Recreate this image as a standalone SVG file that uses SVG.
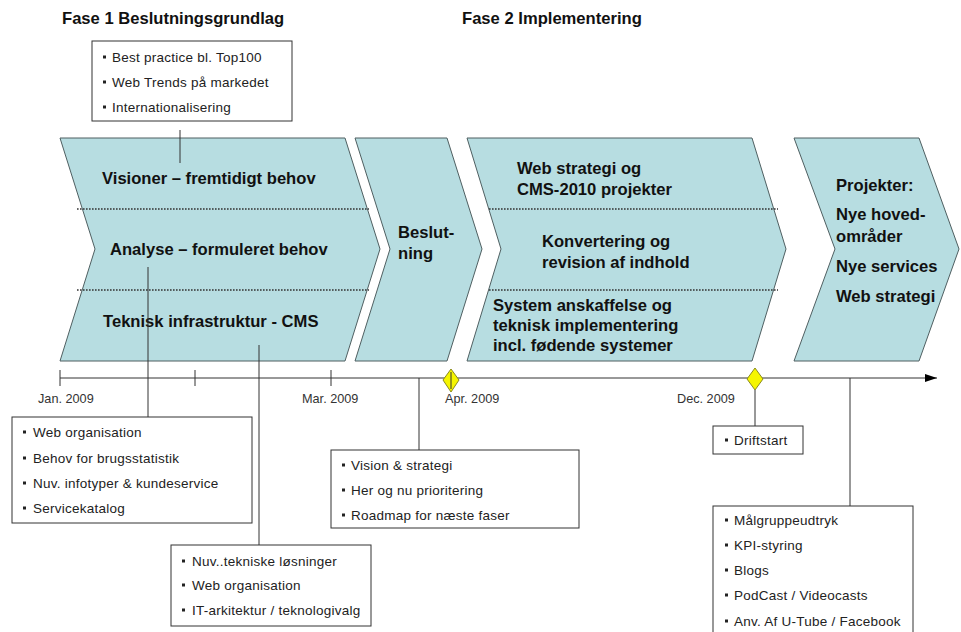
<svg xmlns="http://www.w3.org/2000/svg" width="961" height="632" viewBox="0 0 961 632">
<defs>
<style>
.chev{fill:#b7dde1;stroke:#4f5f61;stroke-width:1}
.dot{stroke:#333;stroke-width:1.6;stroke-dasharray:1.6 1.4;fill:none}
.h{font-family:"Liberation Sans",Arial,sans-serif;font-weight:bold;font-size:16.6px;fill:#111}
.t{font-family:"Liberation Sans",Arial,sans-serif;font-size:13.5px;letter-spacing:0.25px;fill:#222}
.d{font-family:"Liberation Sans",Arial,sans-serif;font-size:12.7px;fill:#333}
.box{fill:#fff;stroke:#333;stroke-width:1}
.ln{stroke:#333;stroke-width:1;fill:none}
.dia{fill:#f5f500;stroke:#8a8a20;stroke-width:1}
</style>
<rect id="b" width="3" height="3" fill="#222"/>
<marker id="arr" markerWidth="12" markerHeight="8" refX="12" refY="4" orient="auto" markerUnits="userSpaceOnUse">
<path d="M0,0 L12,4 L0,8 Z" fill="#000"/>
</marker>
</defs>
<rect width="961" height="632" fill="#fff"/>

<g id="headings">
<text class="h" x="62" y="24">Fase 1 Beslutningsgrundlag</text>
<text class="h" x="462" y="24">Fase 2 Implementering</text>
</g>

<g id="chevron1">
<polygon class="chev" points="60,138 345,138 380,249 345,361 60,361 95,249"/>
<line class="dot" x1="77" y1="209" x2="369" y2="209"/>
<line class="dot" x1="77" y1="290" x2="369" y2="290"/>
<text class="h" x="102" y="184">Visioner – fremtidigt behov</text>
<text class="h" x="110" y="255">Analyse – formuleret behov</text>
<text class="h" x="103" y="327">Teknisk infrastruktur - CMS</text>
</g>

<g id="chevron2">
<polygon class="chev" points="355,138 447,138 482,249 447,361 355,361 390,249"/>
<text class="h" x="398" y="238">Beslut-</text>
<text class="h" x="398" y="259">ning</text>
</g>

<g id="chevron3">
<polygon class="chev" points="467,138 752,138 786,249 752,361 467,361 501,249"/>
<line class="dot" x1="489" y1="209" x2="778" y2="209"/>
<line class="dot" x1="489" y1="290" x2="778" y2="290"/>
<text class="h" x="517" y="174">Web strategi og</text>
<text class="h" x="517" y="195">CMS-2010 projekter</text>
<text class="h" x="542" y="247">Konvertering og</text>
<text class="h" x="542" y="268">revision af indhold</text>
<text class="h" x="493" y="311">System anskaffelse og</text>
<text class="h" x="493" y="331">teknisk implementering</text>
<text class="h" x="493" y="351">incl. fødende systemer</text>
</g>

<g id="chevron4">
<polygon class="chev" points="794,138 919,138 959,249 919,361 794,361 835,249"/>
<text class="h" x="836" y="191">Projekter:</text>
<text class="h" x="836" y="220">Nye hoved-</text>
<text class="h" x="836" y="242">områder</text>
<text class="h" x="836" y="272">Nye services</text>
<text class="h" x="836" y="302">Web strategi</text>
</g>

<g id="connectors">
<line class="ln" x1="60" y1="378" x2="937" y2="378" marker-end="url(#arr)"/>
<line class="ln" x1="60" y1="370" x2="60" y2="386"/>
<line class="ln" x1="195" y1="370" x2="195" y2="386"/>
<line class="ln" x1="331" y1="370" x2="331" y2="386"/>
<line class="ln" x1="180" y1="130" x2="180" y2="163"/>
<line class="ln" x1="148" y1="267" x2="148" y2="417"/>
<line class="ln" x1="259" y1="345" x2="259" y2="545"/>
<line class="ln" x1="419" y1="378" x2="419" y2="450"/>
<line class="ln" x1="755" y1="390" x2="755" y2="426"/>
<line class="ln" x1="850" y1="378" x2="850" y2="506"/>
</g>

<g id="milestone1">
<polygon class="dia" points="451,369 459,380 451,392 443,380"/>
<line class="ln" x1="451" y1="372" x2="451" y2="389"/>
</g>
<g id="milestone2">
<polygon class="dia" points="755,368 763,379 755,390 747,379"/>
</g>

<g id="dates">
<text class="d" x="38" y="403">Jan. 2009</text>
<text class="d" x="302" y="403">Mar. 2009</text>
<text class="d" x="445" y="403">Apr. 2009</text>
<text class="d" x="677" y="403">Dec. 2009</text>
</g>

<g id="box-top">
<rect class="box" x="92" y="41" width="200" height="80"/>
<use href="#b" x="103" y="55.5"/><text class="t" x="112" y="62">Best practice bl. Top100</text>
<use href="#b" x="103" y="80.5"/><text class="t" x="112" y="87">Web Trends på markedet</text>
<use href="#b" x="103" y="105.5"/><text class="t" x="112" y="112">Internationalisering</text>
</g>

<g id="box-analyse">
<rect class="box" x="12" y="417" width="240" height="106"/>
<use href="#b" x="23" y="430.5"/><text class="t" x="33" y="437">Web organisation</text>
<use href="#b" x="23" y="456.5"/><text class="t" x="33" y="463">Behov for brugsstatistik</text>
<use href="#b" x="23" y="481.5"/><text class="t" x="33" y="488">Nuv. infotyper &amp; kundeservice</text>
<use href="#b" x="23" y="506.5"/><text class="t" x="33" y="513">Servicekatalog</text>
</g>

<g id="box-teknisk">
<rect class="box" x="171" y="545" width="200" height="81"/>
<use href="#b" x="182" y="559.5"/><text class="t" x="192" y="566">Nuv..tekniske løsninger</text>
<use href="#b" x="182" y="583.5"/><text class="t" x="192" y="590">Web organisation</text>
<use href="#b" x="182" y="608.5"/><text class="t" x="192" y="615">IT-arkitektur / teknologivalg</text>
</g>

<g id="box-beslutning">
<rect class="box" x="331" y="450" width="248" height="78"/>
<use href="#b" x="342" y="463.5"/><text class="t" x="351" y="470">Vision &amp; strategi</text>
<use href="#b" x="342" y="488.5"/><text class="t" x="351" y="495">Her og nu prioritering</text>
<use href="#b" x="342" y="513.5"/><text class="t" x="351" y="520">Roadmap for næste faser</text>
</g>

<g id="box-drift">
<rect class="box" x="713" y="426" width="90" height="28"/>
<use href="#b" x="725" y="438.5"/><text class="t" x="734" y="445">Driftstart</text>
</g>

<g id="box-projekter">
<rect class="box" x="713" y="506" width="200" height="135"/>
<use href="#b" x="725" y="518.5"/><text class="t" x="734" y="525">Målgruppeudtryk</text>
<use href="#b" x="725" y="543.5"/><text class="t" x="734" y="550">KPI-styring</text>
<use href="#b" x="725" y="568.5"/><text class="t" x="734" y="575">Blogs</text>
<use href="#b" x="725" y="593.5"/><text class="t" x="734" y="600">PodCast / Videocasts</text>
<use href="#b" x="725" y="619.5"/><text class="t" x="734" y="626">Anv. Af U-Tube / Facebook</text>
</g>
</svg>
